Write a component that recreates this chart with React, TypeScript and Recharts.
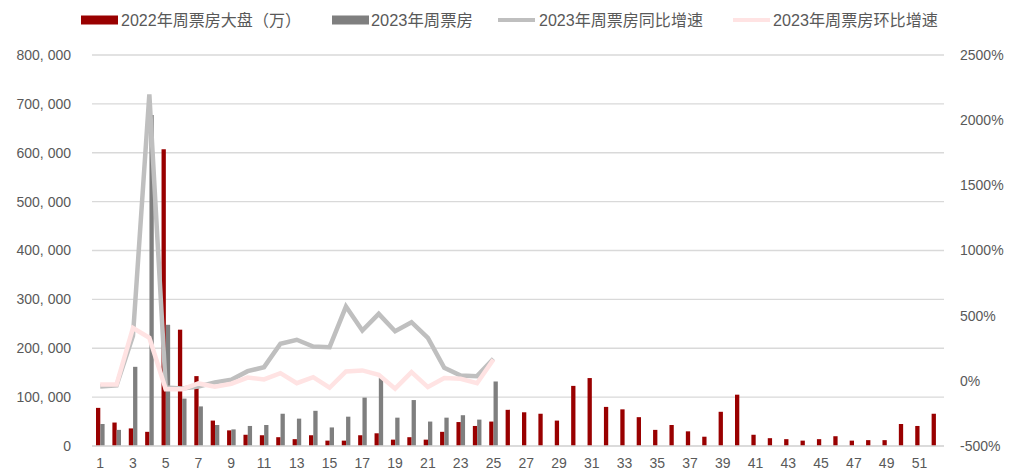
import React from 'react';
import {
  ComposedChart, Bar, Line, XAxis, YAxis, CartesianGrid,
} from 'recharts';

const weeks = [
  '1', '2', '3', '4', '5', '6', '7', '8', '9', '10', '11', '12', '13',
  '14', '15', '16', '17', '18', '19', '20', '21', '22', '23', '24', '25', '26',
  '27', '28', '29', '30', '31', '32', '33', '34', '35', '36', '37', '38', '39',
  '40', '41', '42', '43', '44', '45', '46', '47', '48', '49', '50', '51', '52',
];

// 2022 weekly box office (万)
const box2022 = [
  78000, 48000, 36000, 29000, 607000, 238000, 143000, 52000, 32000, 23000, 22000, 18000, 14000,
  22000, 11000, 11000, 22000, 26000, 13000, 18000, 13000, 29000, 49000, 41000, 50000, 74000,
  69000, 66000, 52000, 123000, 139000, 80000, 75000, 59000, 33000, 43000, 30000, 19000, 70000,
  105000, 23000, 16000, 14000, 11000, 14000, 20000, 11000, 12000, 12000, 45000, 41000, 66000,
];

// 2023 weekly box office, weeks 1-25
const box2023 = [
  45000, 33000, 162000, 677000, 248000, 97000, 81000, 43000, 34000, 41000, 43000, 66000, 56000,
  72000, 38000, 60000, 99000, 139000, 58000, 94000, 50000, 58000, 63000, 54000, 132000,
];

// growth rates in %
const yoy2023 = [
  -43, -35, 345, 2198, -52, -58, -43, -12, 8, 74, 105, 284, 315,
  263, 258, 570, 386, 514, 381, 450, 330, 100, 41, 36, 169,
];

const wow2023 = [
  -28, -28, 405, 330, -65, -65, -20, -45, -22, 25, 11, 59, -18,
  28, -53, 72, 80, 47, -60, 67, -48, 21, 16, -18, 164,
];

const leftTicks = [0, 100000, 200000, 300000, 400000, 500000, 600000, 700000, 800000];
const rightTicks = [-500, 0, 500, 1000, 1500, 2000, 2500];

const data = weeks.map((w, i) => ({
  week: w,
  v2022: box2022[i],
  v2023: i < box2023.length ? box2023[i] : null,
  yoy: i < yoy2023.length ? yoy2023[i] : null,
  wow: i < wow2023.length ? wow2023[i] : null,
}));

const RED = '#990000';
const GRAY = '#7f7f7f';
const LIGHT = '#bfbfbf';
const PINK = '#ffe3e3';
const TEXT = '#595959';
const FONT = '"Liberation Sans", Arial, "Noto Sans CJK SC", sans-serif';
const LEGEND_FONT = '"Liberation Sans", "Noto Sans CJK SC", sans-serif';

const fmtLeft = (v: number) => String(v).replace(/\B(?=(\d{3})+(?!\d))/g, ', ');

function TopLegend() {
  const items = [
    { kind: 'rect', color: RED, sx: 81, tx: 121, tw: 180, label: '2022年周票房大盘（万）' },
    { kind: 'rect', color: GRAY, sx: 332, tx: 371, tw: 102, label: '2023年周票房' },
    { kind: 'line', color: LIGHT, sx: 498, tx: 539, tw: 164, label: '2023年周票房同比增速' },
    { kind: 'line', color: PINK, sx: 733, tx: 773, tw: 165, label: '2023年周票房环比增速' },
  ];
  return (
    <svg width={1018} height={40} style={{ position: 'absolute', left: 0, top: 0 }}>
      {items.map(it => (
        <g key={it.label}>
          {it.kind === 'rect' ? (
            <rect x={it.sx} y={15.5} width={37} height={9} fill={it.color} />
          ) : (
            <line x1={it.sx} x2={it.sx + 37} y1={20} y2={20} stroke={it.color} strokeWidth={4} />
          )}
          <text
            x={it.tx}
            y={26}
            fontSize={16}
            fill={TEXT}
            fontFamily={LEGEND_FONT}
            textLength={it.tw}
            lengthAdjust="spacingAndGlyphs"
          >
            {it.label}
          </text>
        </g>
      ))}
    </svg>
  );
}

export default function App() {
  return (
    <div style={{ position: 'absolute', left: 0, top: 0, width: 1018, height: 472, background: '#fff', fontFamily: FONT }}>
      <TopLegend />
      <ComposedChart
        width={1018}
        height={472}
        data={data}
        margin={{ top: 55, right: 0, bottom: 0, left: 0 }}
        barGap={0}
      >
        <CartesianGrid yAxisId="left" vertical={false} stroke="#d9d9d9" strokeWidth={1.3} />
        <XAxis
          dataKey="week"
          interval={1}
          height={26}
          tickLine={false}
          tickSize={0}
          tickMargin={12}
          axisLine={{ stroke: '#d9d9d9', strokeWidth: 1.5 }}
          tick={{ fontSize: 14, fill: TEXT, fontFamily: FONT }}
        />
        <YAxis
          yAxisId="left"
          width={92}
          domain={[0, 800000]}
          ticks={leftTicks}
          tickFormatter={fmtLeft}
          axisLine={false}
          tickLine={false}
          tickSize={0}
          tickMargin={21}
          tick={{ fontSize: 14, fill: TEXT, fontFamily: FONT }}
        />
        <YAxis
          yAxisId="right"
          orientation="right"
          width={74}
          domain={[-500, 2500]}
          ticks={rightTicks}
          tickFormatter={(v: number) => `${v}%`}
          axisLine={false}
          tickLine={false}
          tickSize={0}
          tickMargin={16}
          tick={{ fontSize: 14, fill: TEXT, fontFamily: FONT }}
        />
        <Bar yAxisId="left" dataKey="v2022" fill={RED} barSize={4.3} isAnimationActive={false} />
        <Bar yAxisId="left" dataKey="v2023" fill={GRAY} barSize={4.3} isAnimationActive={false} />
        <Line
          yAxisId="right"
          type="linear"
          dataKey="yoy"
          stroke={LIGHT}
          strokeWidth={4.5}
          dot={false}
          activeDot={false}
          isAnimationActive={false}
        />
        <Line
          yAxisId="right"
          type="linear"
          dataKey="wow"
          stroke={PINK}
          strokeWidth={4.5}
          dot={false}
          activeDot={false}
          isAnimationActive={false}
        />
      </ComposedChart>
    </div>
  );
}
